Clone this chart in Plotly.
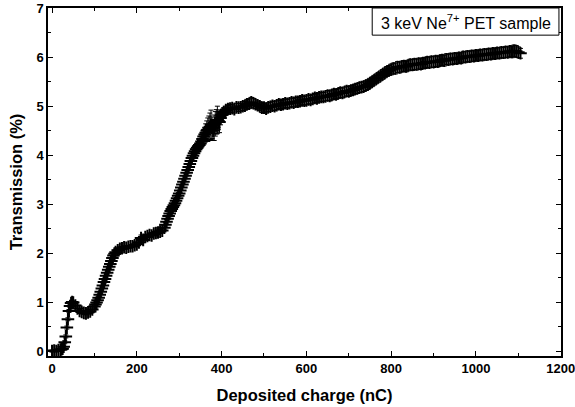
import plotly.graph_objects as go

# Deposited charge (nC), every 5 nC
charge = list(range(0, 1110, 5))

# Transmission (%)
transmission = [
    0.00, 0.01, 0.00, 0.02, 0.03, 0.05, 0.18, 0.48, 0.82, 0.98,
    0.99, 0.93, 0.87, 0.82, 0.80, 0.78, 0.77, 0.79, 0.81, 0.85,
    0.91, 0.99, 1.09, 1.21, 1.34, 1.47, 1.60, 1.72, 1.84, 1.95,
    2.02, 2.06, 2.09, 2.10, 2.12, 2.11, 2.13, 2.14, 2.14, 2.16,
    2.18, 2.22, 2.31, 2.27, 2.33, 2.35, 2.37, 2.36, 2.40, 2.41,
    2.42, 2.44, 2.46, 2.52, 2.64, 2.76, 2.86, 2.94, 3.02, 3.12,
    3.22, 3.34, 3.46, 3.58, 3.70, 3.82, 3.94, 4.04, 4.12, 4.18,
    4.24, 4.33, 4.42, 4.50, 4.55, 4.62, 4.50, 4.64, 4.72, 4.68,
    4.82, 4.88, 4.92, 4.94, 4.95, 4.96, 4.94, 4.98, 4.97, 4.98,
    5.00, 5.01, 5.04, 5.05, 5.08, 5.06, 5.04, 5.02, 5.00, 4.97,
    4.97, 4.95, 4.98, 4.99, 5.01, 5.00, 5.02, 5.04, 5.03, 5.04,
    5.06, 5.05, 5.06, 5.08, 5.07, 5.09, 5.09, 5.10, 5.12, 5.11,
    5.12, 5.14, 5.13, 5.15, 5.17, 5.16, 5.18, 5.19, 5.19, 5.20,
    5.22, 5.21, 5.23, 5.25, 5.24, 5.26, 5.28, 5.27, 5.29, 5.31,
    5.30, 5.32, 5.33, 5.35, 5.36, 5.38, 5.39, 5.40, 5.42, 5.44,
    5.47, 5.50, 5.53, 5.56, 5.59, 5.62, 5.65, 5.68, 5.71, 5.73,
    5.75, 5.77, 5.77, 5.80, 5.79, 5.81, 5.82, 5.81, 5.83, 5.85,
    5.84, 5.86, 5.85, 5.87, 5.86, 5.88, 5.88, 5.90, 5.89, 5.91,
    5.90, 5.92, 5.91, 5.93, 5.94, 5.93, 5.96, 5.95, 5.97, 5.96,
    5.98, 5.97, 5.99, 5.98, 6.01, 6.00, 6.02, 6.01, 6.03, 6.02,
    6.04, 6.03, 6.05, 6.04, 6.06, 6.05, 6.07, 6.06, 6.08, 6.07,
    6.09, 6.08, 6.10, 6.09, 6.11, 6.10, 6.12, 6.11, 6.13, 6.12,
    6.10, 6.08,
]

# Error bars (%)
error = [
    0.02, 0.02, 0.02, 0.02, 0.02, 0.02, 0.03, 0.03, 0.03, 0.03,
    0.03, 0.03, 0.03, 0.03, 0.03, 0.03, 0.03, 0.03, 0.03, 0.03,
    0.03, 0.03, 0.03, 0.03, 0.03, 0.03, 0.03, 0.03, 0.03, 0.03,
    0.03, 0.03, 0.03, 0.03, 0.03, 0.03, 0.03, 0.03, 0.03, 0.03,
    0.03, 0.04, 0.06, 0.05, 0.04, 0.04, 0.04, 0.04, 0.04, 0.04,
    0.04, 0.04, 0.04, 0.05, 0.05, 0.05, 0.05, 0.05, 0.05, 0.05,
    0.05, 0.06, 0.06, 0.06, 0.06, 0.06, 0.06, 0.07, 0.08, 0.08,
    0.10, 0.12, 0.15, 0.20, 0.25, 0.30, 0.20, 0.25, 0.28, 0.22,
    0.10, 0.09, 0.08, 0.08, 0.08, 0.08, 0.08, 0.08, 0.08, 0.08,
    0.09, 0.09, 0.10, 0.10, 0.10, 0.10, 0.09, 0.09, 0.09, 0.10,
    0.09, 0.09, 0.09, 0.09, 0.09, 0.09, 0.09, 0.09, 0.09, 0.09,
    0.09, 0.09, 0.09, 0.09, 0.09, 0.09, 0.09, 0.09, 0.09, 0.09,
    0.09, 0.09, 0.09, 0.09, 0.09, 0.09, 0.09, 0.09, 0.09, 0.09,
    0.10, 0.10, 0.10, 0.10, 0.10, 0.10, 0.10, 0.10, 0.10, 0.10,
    0.10, 0.10, 0.10, 0.10, 0.10, 0.10, 0.10, 0.10, 0.10, 0.10,
    0.10, 0.10, 0.10, 0.10, 0.10, 0.10, 0.10, 0.10, 0.10, 0.10,
    0.11, 0.11, 0.11, 0.11, 0.11, 0.11, 0.11, 0.11, 0.11, 0.11,
    0.11, 0.11, 0.11, 0.11, 0.11, 0.11, 0.11, 0.11, 0.11, 0.11,
    0.11, 0.11, 0.11, 0.11, 0.11, 0.11, 0.11, 0.11, 0.11, 0.11,
    0.11, 0.11, 0.11, 0.11, 0.11, 0.11, 0.11, 0.11, 0.11, 0.11,
    0.11, 0.11, 0.11, 0.11, 0.11, 0.11, 0.11, 0.11, 0.11, 0.11,
    0.11, 0.11, 0.11, 0.11, 0.11, 0.11, 0.11, 0.12, 0.12, 0.12,
    0.11, 0.10,
]

# Extra in-between readings where the curve climbs steeply
charge_extra = [
    22.5, 27.5, 32.5, 37.5, 42.5, 47.5,
    102.5, 107.5, 112.5, 117.5, 122.5, 127.5, 132.5, 137.5, 142.5, 147.5,
    267.5, 272.5, 277.5, 282.5, 287.5, 292.5, 297.5, 302.5, 307.5, 312.5,
    317.5, 322.5, 327.5, 332.5, 337.5, 342.5, 347.5, 352.5, 357.5, 362.5,
    367.5, 372.5, 377.5, 382.5, 387.5, 392.5, 397.5, 402.5,
]
transmission_extra = [
    0.04, 0.09, 0.30, 0.65, 0.92, 1.00,
    0.95, 1.04, 1.15, 1.28, 1.41, 1.54, 1.66, 1.78, 1.90, 1.99,
    2.58, 2.70, 2.81, 2.90, 2.98, 3.07, 3.17, 3.28, 3.40, 3.52,
    3.64, 3.76, 3.88, 3.99, 4.08, 4.15, 4.21, 4.28, 4.38, 4.46,
    4.52, 4.58, 4.56, 4.56, 4.68, 4.70, 4.76, 4.85,
]
error_extra = [
    0.02, 0.03, 0.03, 0.03, 0.03, 0.03,
    0.03, 0.03, 0.03, 0.03, 0.03, 0.03, 0.03, 0.03, 0.03, 0.03,
    0.05, 0.05, 0.05, 0.05, 0.05, 0.05, 0.05, 0.05, 0.06, 0.06,
    0.06, 0.06, 0.06, 0.06, 0.07, 0.08, 0.09, 0.11, 0.14, 0.18,
    0.24, 0.28, 0.22, 0.26, 0.25, 0.18, 0.14, 0.09,
]

x_ticks = [0, 200, 400, 600, 800, 1000, 1200]
y_ticks = [0, 1, 2, 3, 4, 5, 6, 7]
label_text = "3 keV Ne<sup>7+</sup> PET sample"

font_family = "Liberation Sans, Arial, sans-serif"

all_x = charge + charge_extra
all_y = transmission + transmission_extra
all_e = error + error_extra

fig = go.Figure()
fig.add_trace(go.Scatter(
    x=all_x, y=all_y,
    mode="markers",
    marker=dict(symbol="cross-thin", size=9, color="black",
                line=dict(color="black", width=2)),
    error_y=dict(type="data", array=all_e, visible=True,
                 color="black", thickness=1, width=2.5),
    showlegend=False,
    hoverinfo="x+y",
))

axis_common = dict(
    showline=True, linecolor="black", linewidth=1.5, mirror="ticks",
    ticks="inside", ticklen=5, tickwidth=1, tickcolor="black",
    showgrid=False, zeroline=False, automargin=False,
    ticklabeloverflow="allow",
    tickfont=dict(family=font_family, size=13, color="black", weight="bold"),
)

fig.update_xaxes(
    range=[-9.5, 1200.6], tickvals=x_ticks,
    minor=dict(dtick=100, ticks="inside", ticklen=3, tickcolor="black", tick0=0),
    title=dict(text="<b>Deposited charge (nC)</b>",
               font=dict(family=font_family, size=16.5, color="black"), standoff=14),
    **axis_common,
)
fig.update_yaxes(
    range=[-0.1, 7.005], tickvals=y_ticks,
    minor=dict(dtick=0.5, ticks="inside", ticklen=3, tickcolor="black", tick0=0),
    title=dict(text="<b>Transmission (%)</b>",
               font=dict(family=font_family, size=16.5, color="black"), standoff=10),
    **axis_common,
)

fig.add_shape(type="rect", xref="paper", yref="paper",
              x0=0.632, x1=0.996, y0=0.922, y1=1.0,
              line=dict(color="black", width=1), fillcolor="white", layer="above")
fig.add_annotation(xref="paper", yref="paper", x=0.814, y=0.961,
                   text=label_text, showarrow=False,
                   xanchor="center", yanchor="middle",
                   font=dict(family=font_family, size=16, color="black"))

fig.update_layout(
    width=575, height=407,
    margin=dict(l=48, r=14, t=8, b=51),
    plot_bgcolor="white", paper_bgcolor="white",
)

fig.write_html("out.html", config={"displayModeBar": False},
               post_script="document.body.style.margin='0';")
